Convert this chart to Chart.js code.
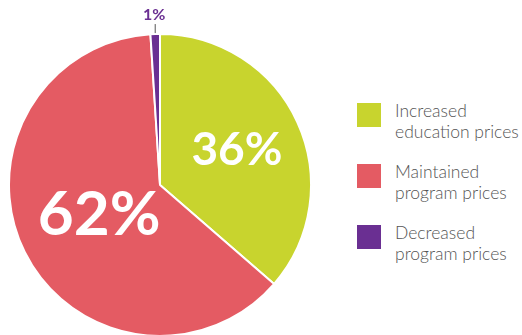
<!DOCTYPE html>
<html>
<head>
<meta charset="utf-8">
<script src="https://cdn.jsdelivr.net/npm/chart.js@4"></script>
<style>
    html, body { margin: 0; padding: 0; background: #fff; }
    #wrap { position: relative; width: 522px; height: 335px; overflow: hidden; }
    #pieBox { position: absolute; left: 0; top: 0; width: 330px; height: 338px; }
    #legend { position: absolute; left: 357px; top: 103px; font-family: Lato, "Open Sans", sans-serif; color: #555; }
    .leg-item { position: relative; height: 61px; }
    .leg-box { position: absolute; left: 0; top: 0; width: 24px; height: 24px; }
    .leg-text { position: absolute; left: 38px; top: -3px; font-size: 17.5px; font-weight: 300; line-height: 21px; white-space: nowrap; }
</style>
</head>
<body>
<div id="wrap">
    <div id="pieBox"><canvas id="pieChart"></canvas></div>
    <div id="legend"></div>
</div>
<script>
// ─── DATA ───
const categories = ['Increased education prices', 'Maintained program prices', 'Decreased program prices'];
const legendLines = [['Increased', 'education prices'], ['Maintained', 'program prices'], ['Decreased', 'program prices']];
const shares = [36, 62, 1];
const shareLabels = ['36%', '62%', '1%'];
const sliceColors = ['#c8d42e', '#e45b63', '#6a2f92'];

// label styling per slice: radius factor and font size
const labelStyle = [
    { r: 0.56, size: 46, inside: true },
    { r: 0.45, size: 62, inside: true },
    { r: 1.0, size: 16, inside: false }
];

const pctLabels = {
    id: 'pctLabels',
    afterDatasetsDraw(chart) {
        const ctx = chart.ctx;
        const arcs = chart.getDatasetMeta(0).data;
        arcs.forEach((arc, i) => {
            const st = labelStyle[i];
            const mid = (arc.startAngle + arc.endAngle) / 2;
            ctx.save();
            ctx.textAlign = 'center';
            ctx.textBaseline = 'middle';
            ctx.font = `bold ${st.size}px Lato, "Open Sans", sans-serif`;
            if (st.inside) {
                const rr = arc.outerRadius * st.r;
                ctx.fillStyle = '#ffffff';
                ctx.fillText(shareLabels[i], arc.x + Math.cos(mid) * rr, arc.y + Math.sin(mid) * rr);
            } else {
                const x0 = arc.x + Math.cos(mid) * arc.outerRadius;
                const y0 = arc.y + Math.sin(mid) * arc.outerRadius;
                ctx.strokeStyle = '#555';
                ctx.lineWidth = 1;
                ctx.beginPath();
                ctx.moveTo(x0, y0 - 1);
                ctx.lineTo(x0, y0 - 10);
                ctx.stroke();
                ctx.fillStyle = sliceColors[i];
                ctx.fillText(shareLabels[i], x0 - 1, y0 - 19);
            }
            ctx.restore();
        });
    }
};

new Chart(document.getElementById('pieChart'), {
    type: 'pie',
    data: {
        labels: categories,
        datasets: [{
            data: shares,
            backgroundColor: sliceColors,
            borderColor: '#ffffff',
            borderWidth: 2
        }]
    },
    options: {
        responsive: true,
        maintainAspectRatio: false,
        animation: false,
        layout: { padding: { left: 8, top: 33, right: 18, bottom: 1 } },
        plugins: {
            legend: { display: false },
            tooltip: { enabled: false }
        }
    },
    plugins: [pctLabels]
});

// ─── LEGEND ───
document.getElementById('legend').innerHTML = categories.map((c, i) => `
    <div class="leg-item">
        <div class="leg-box" style="background:${sliceColors[i]}"></div>
        <div class="leg-text">${legendLines[i].join('<br>')}</div>
    </div>
`).join('');
</script>
</body>
</html>
